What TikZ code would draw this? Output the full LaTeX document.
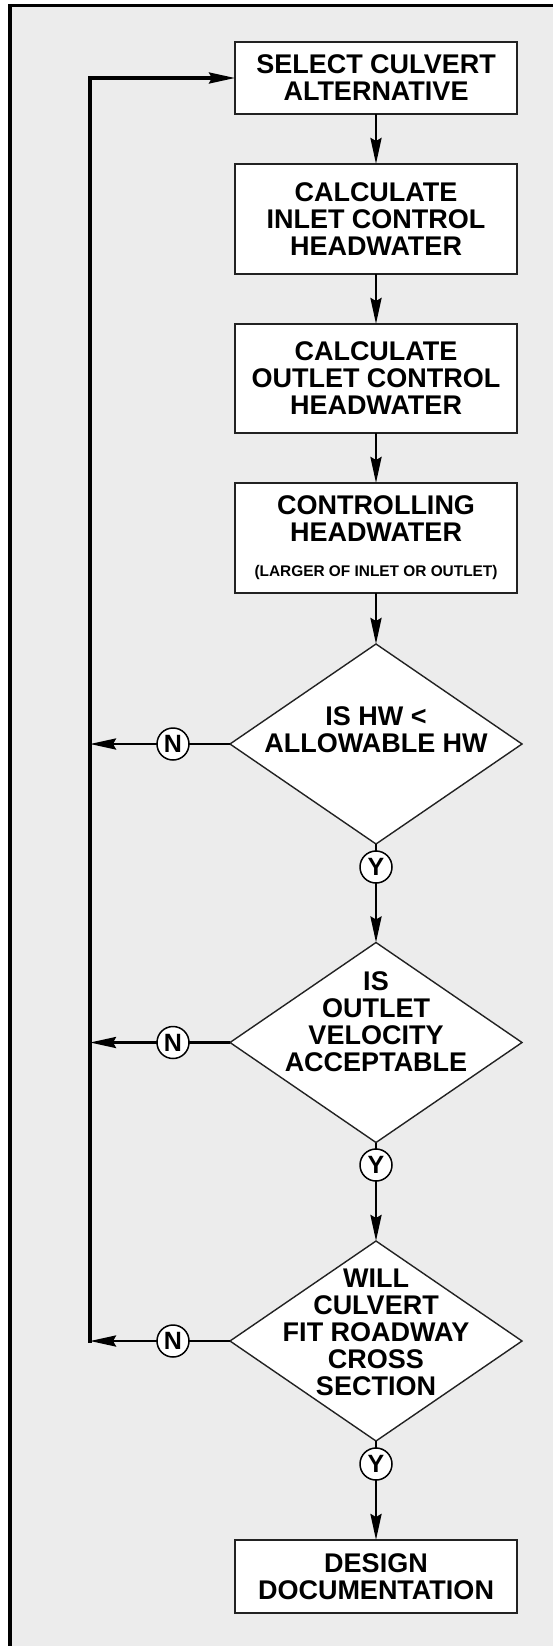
\documentclass[tikz,border=0pt]{standalone}
\usepackage{fontspec}
\setmainfont{Liberation Sans}
\usetikzlibrary{shapes.geometric,arrows.meta}
\definecolor{bg}{HTML}{ECECEC}
\definecolor{edge}{HTML}{222222}
\begin{document}
\begin{tikzpicture}[x=1pt,y=-1pt,
  box/.style={draw=edge, line width=1.7pt, fill=white, minimum width=282pt, inner sep=0pt, outer sep=0pt},
  dec/.style={shape=diamond, draw=edge, line width=1.4pt, fill=white, minimum width=292pt, minimum height=200pt, inner sep=0pt, outer sep=0pt},
  txt/.style={font=\bfseries\fontsize{27}{27}\selectfont, align=center, inner sep=0pt},
  small/.style={font=\bfseries\fontsize{15.4}{15.4}\selectfont, inner sep=0pt},
  yn/.style={circle, draw=black, line width=1.5pt, fill=white, minimum size=32pt, inner sep=0pt, outer sep=0pt, font=\bfseries\fontsize{25}{25}\selectfont},
  conn/.style={line width=2.9pt},
  arr/.style={conn, -{Stealth[length=26pt,width=11pt,inset=3pt]}}
]
\useasboundingbox (0,0) rectangle (553,1646);
\clip (0,0) rectangle (553,1646);
\fill[white] (0,0) rectangle (553,1646);
\fill[bg] (10,5.5) rectangle (570,1670);
\draw[line width=3.6pt] (10,1670) -- (10,5.5) -- (570,5.5);

% process boxes
\node[box, txt, minimum height=72pt] (b1) at (376,78) {SELECT CULVERT\\ALTERNATIVE};
\node[box, txt, minimum height=110pt] (b2) at (376,219) {CALCULATE\\INLET CONTROL\\HEADWATER};
\node[box, txt, minimum height=109pt] (b3) at (376,378.5) {CALCULATE\\OUTLET CONTROL\\HEADWATER};
\node[box, minimum height=110pt] (b4) at (376,538) {};
\node[txt] (t4) at (376,518.5) {CONTROLLING\\HEADWATER};
\node[small, anchor=base] (t4s) at (376,576) {(LARGER OF INLET OR OUTLET)};
\node[box, txt, minimum height=73pt] (b5) at (376,1576.5) {DESIGN\\DOCUMENTATION};

% decisions
\node[dec] (d1) at (376,744) {};
\node[txt] (t1) at (376,729.5) {IS HW <\\ALLOWABLE HW};
\node[dec] (d2) at (376,1042.5) {};
\node[txt] (t2) at (376,1022) {IS\\OUTLET\\VELOCITY\\ACCEPTABLE};
\node[dec] (d3) at (376,1341) {};
\node[txt] (t3) at (376,1332.5) {WILL\\CULVERT\\FIT ROADWAY\\CROSS\\SECTION};

% Y / N markers
\node[yn] (y1) at (376,867) {Y};
\node[yn] (y2) at (376,1165) {Y};
\node[yn] (y3) at (376,1464) {Y};
\node[yn] (n1) at (173,744) {N};
\node[yn] (n2) at (173,1042.5) {N};
\node[yn] (n3) at (173,1341) {N};

% feedback coordinates
\coordinate (ct) at (90,78);
\coordinate (c1) at (90,744);
\coordinate (c2) at (90,1042.5);
\coordinate (c3) at (90,1341);

% main flow
\draw[arr] (b1) -- (b2);
\draw[arr] (b2) -- (b3);
\draw[arr] (b3) -- (b4);
\draw[arr] (b4) -- (d1);
\draw[conn] (d1) -- (y1);
\draw[arr] (y1) -- (d2);
\draw[conn] (d2) -- (y2);
\draw[arr] (y2) -- (d3);
\draw[conn] (d3) -- (y3);
\draw[arr] (y3) -- (b5);

% no branches
\draw[conn] (d1) -- (n1);
\draw[arr] (n1) -- (c1);
\draw[conn] (d2) -- (n2);
\draw[arr] (n2) -- (c2);
\draw[conn] (d3) -- (n3);
\draw[arr] (n3) -- (c3);
\draw[arr, line cap=rect, line join=miter, line width=3.1pt] (c3) -- (ct) -- (b1);
\end{tikzpicture}
\end{document}
